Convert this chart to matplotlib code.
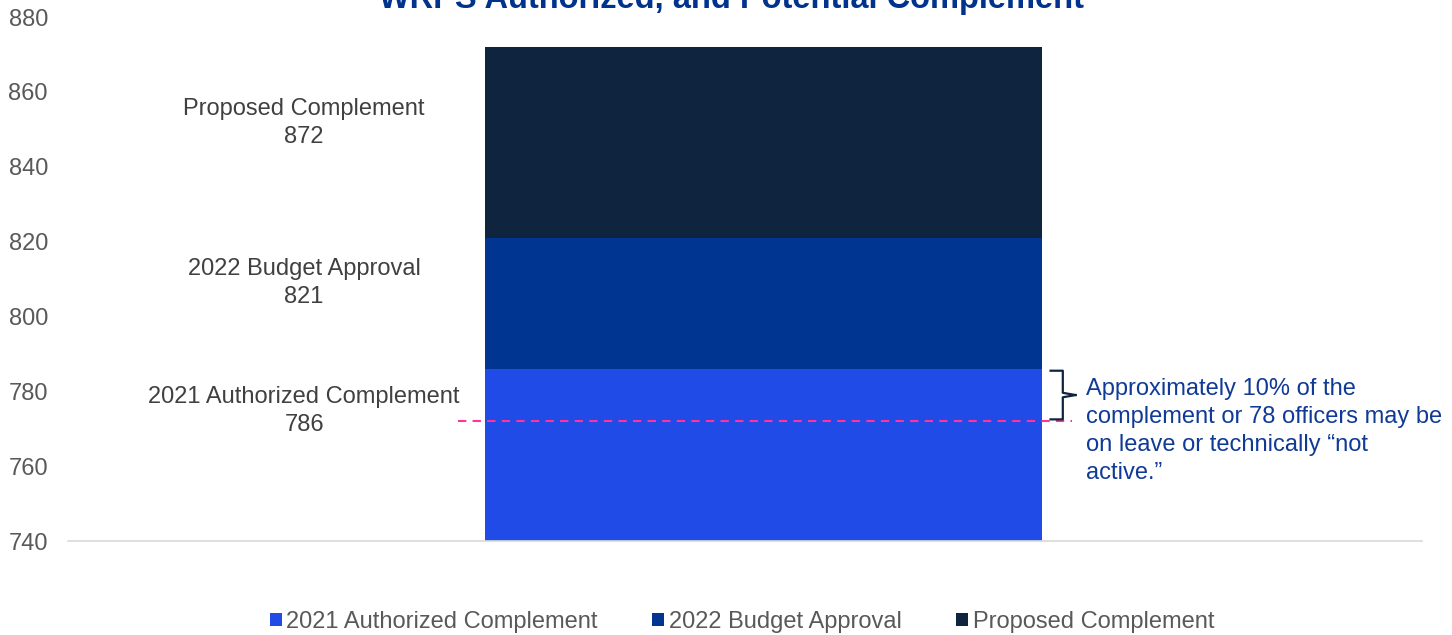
import matplotlib.pyplot as plt
import numpy as np

# data
series = ["2021 Authorized Complement", "2022 Budget Approval", "Proposed Complement"]
totals = [786, 821, 872]
colors = ["#214BE6", "#003591", "#0F243E"]
inactive_level = 772
note = "Approximately 10% of the\ncomplement or 78 officers may be\non leave or technically \u201cnot\nactive.\u201d"
title = "WRPS Authorized, and Potential Complement"

plt.rcParams['font.family'] = ['Liberation Sans', 'DejaVu Sans']

fig = plt.figure(figsize=(14.52, 6.35), dpi=100)
ax = fig.add_axes([0.0468, 0.148, 0.9326, 0.8252])

bottoms = [0] + totals[:-1]
heights = np.diff([0] + totals)
for name, b, h, c in zip(series, bottoms, heights, colors):
    ax.bar(0, h, bottom=b, width=1.0, color=c, label=name)

ax.set_xlim(-1.249, 1.182)
ax.set_ylim(740, 880)
ax.set_yticks(np.arange(740, 881, 20))
ax.tick_params(axis='y', length=0, pad=14.4, labelsize=17, labelcolor='#595959')
ax.set_xticks([])
for s in ['top', 'right', 'left']:
    ax.spines[s].set_visible(False)
ax.spines['bottom'].set_color('#D9D9D9')
ax.spines['bottom'].set_linewidth(1.2)

# segment labels at left
label_y = [774.7, 808.9, 851.7]
for name, t, y in zip(series, totals, label_y):
    ax.text(-0.825, y, f"{name}\n{t}", ha='center', va='center', fontsize=17,
            color='#404040', linespacing=1.33)

# dashed line for inactive officers
ax.plot([-0.549, 0.553], [inactive_level, inactive_level], color='#FF3399',
        linestyle=(0, (4, 3)), linewidth=1.5)

# brace
bx0, bx1, bx2 = 0.515, 0.537, 0.56
ytop, ybot = 785.5, 772.5
ymid = (ytop + ybot) / 2
ax.plot([bx0, bx1, bx1, bx2], [ytop, ytop, ymid + 0.6, ymid], color='#0F243E', lw=1.6)
ax.plot([bx0, bx1, bx1, bx2], [ybot, ybot, ymid - 0.6, ymid], color='#0F243E', lw=1.6)

ax.text(0.579, 769.4, note, ha='left', va='center', fontsize=17, color='#0F3A96',
        linespacing=1.34)

fig.text(0.504, 0.987, title, ha='center', va='baseline', fontsize=23.5,
         fontweight='bold', color='#00338D')

fig.legend(loc='center', bbox_to_anchor=(0.511, 0.021), ncol=3, frameon=False,
           fontsize=17, labelcolor='#595959', handlelength=0.5, handleheight=0.5,
           handletextpad=0.2, columnspacing=2.3, borderpad=0)

fig.savefig('out.png', dpi=100)
